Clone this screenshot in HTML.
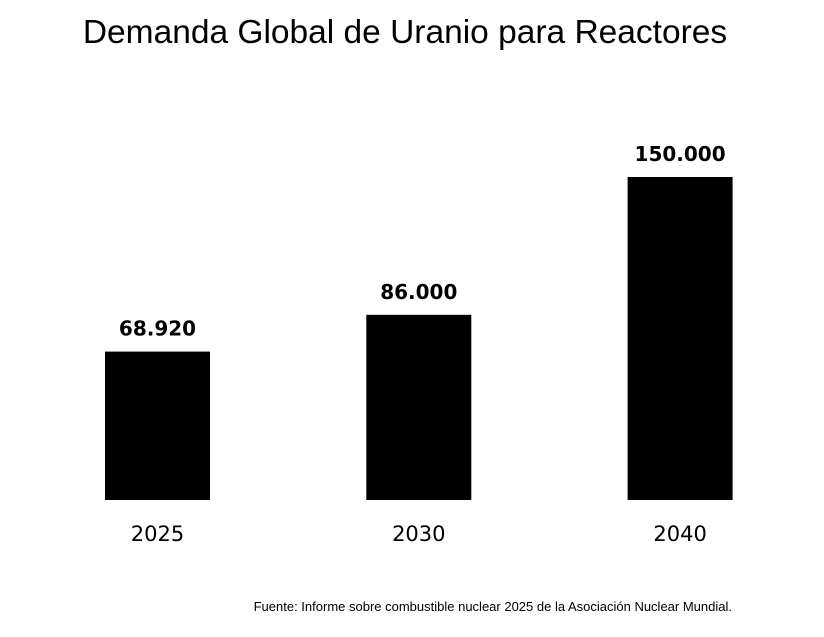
<!DOCTYPE html>
<html><head><meta charset="utf-8"><style>
body{margin:0;background:#fff;}
svg{display:block;}
</style></head><body>
<svg width="824" height="637" viewBox="0 0 824 637" id="chart">
<rect width="824" height="637" fill="#fff"/>
<text x="405" y="43" text-anchor="middle" font-family="Liberation Sans, sans-serif" font-size="33.5" fill="#000">Demanda Global de Uranio para Reactores</text>
<g id="bars"></g>
<text x="732" y="611" text-anchor="end" font-family="Liberation Sans, sans-serif" font-size="13" fill="#000">Fuente: Informe sobre combustible nuclear 2025 de la Asociación Nuclear Mundial.</text>
</svg>
<script>
const categories = ["2025", "2030", "2040"];
const values = [68920, 86000, 150000];
const valueLabels = ["68.920", "86.000", "150.000"];

const baseY = 500, maxH = 323, maxV = 150000;
const firstCenter = 157.5, step = 261.3, barW = 105;
function yScale(v){ return baseY - v / maxV * maxH; }
function xCenter(i){ return firstCenter + i * step; }
const ns = "http://www.w3.org/2000/svg";
const g = document.getElementById("bars");
categories.forEach((c, i) => {
  const cx = xCenter(i), y = yScale(values[i]);
  const r = document.createElementNS(ns, "rect");
  r.setAttribute("x", cx - barW / 2);
  r.setAttribute("y", y);
  r.setAttribute("width", barW);
  r.setAttribute("height", baseY - y);
  r.setAttribute("fill", "#000");
  
  
  g.appendChild(r);
  const t = document.createElementNS(ns, "text");
  t.setAttribute("x", cx);
  t.setAttribute("y", y - 16);
  t.setAttribute("text-anchor", "middle");
  t.setAttribute("font-family", "DejaVu Sans, sans-serif");
  t.setAttribute("font-weight", "bold");
  t.setAttribute("font-size", "20");
  t.textContent = valueLabels[i];
  
  
  g.appendChild(t);
  const l = document.createElementNS(ns, "text");
  l.setAttribute("x", cx);
  l.setAttribute("y", 541);
  l.setAttribute("text-anchor", "middle");
  l.setAttribute("font-family", "DejaVu Sans, sans-serif");
  l.setAttribute("font-size", "21");
  l.textContent = c;
  
  
  g.appendChild(l);
});
</script>
</body></html>
